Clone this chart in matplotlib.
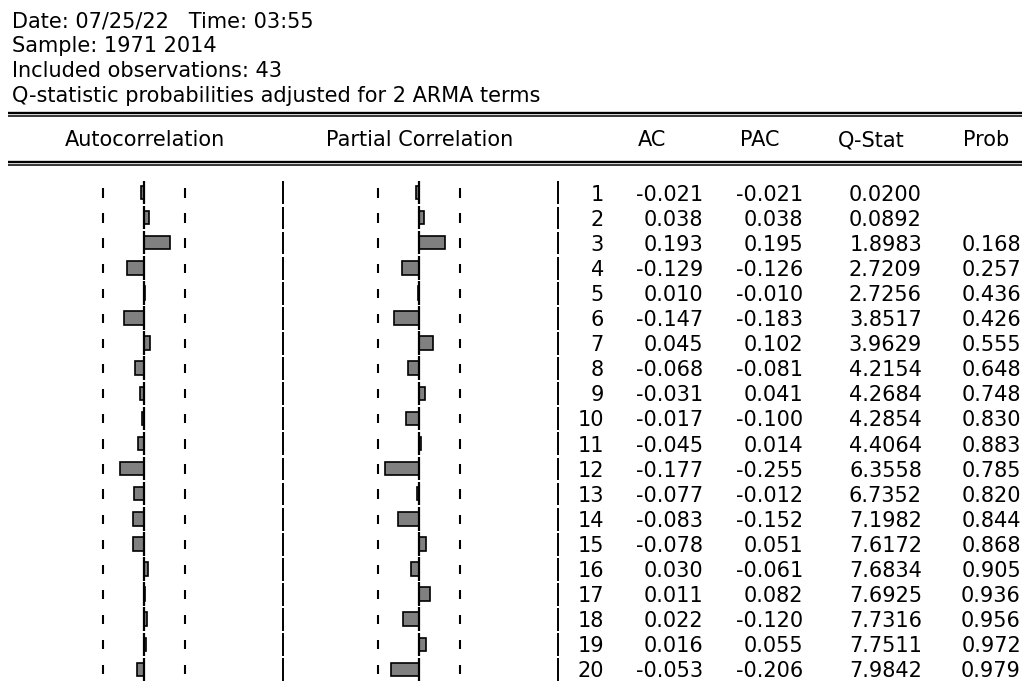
import matplotlib
matplotlib.use("Agg")
import matplotlib.pyplot as plt
import numpy as np

# ── Correlogram values (EViews output) ──────────────────────────────────────
header_lines = [
    "Date: 07/25/22   Time: 03:55",
    "Sample: 1971 2014",
    "Included observations: 43",
    "Q-statistic probabilities adjusted for 2 ARMA terms",
]
lags = [1, 2, 3, 4, 5, 6, 7, 8, 9, 10, 11, 12, 13, 14, 15, 16, 17, 18, 19, 20]
ac = [-0.021, 0.038, 0.193, -0.129, 0.010, -0.147, 0.045, -0.068, -0.031, -0.017,
      -0.045, -0.177, -0.077, -0.083, -0.078, 0.030, 0.011, 0.022, 0.016, -0.053]
pac = [-0.021, 0.038, 0.195, -0.126, -0.010, -0.183, 0.102, -0.081, 0.041, -0.100,
       0.014, -0.255, -0.012, -0.152, 0.051, -0.061, 0.082, -0.120, 0.055, -0.206]
qstat = [0.0200, 0.0892, 1.8983, 2.7209, 2.7256, 3.8517, 3.9629, 4.2154, 4.2684, 4.2854,
         4.4064, 6.3558, 6.7352, 7.1982, 7.6172, 7.6834, 7.6925, 7.7316, 7.7511, 7.9842]
prob = [None, None, 0.168, 0.257, 0.436, 0.426, 0.555, 0.648, 0.748, 0.830,
        0.883, 0.785, 0.820, 0.844, 0.868, 0.905, 0.936, 0.956, 0.972, 0.979]
bound = 0.305  # approx. 2/sqrt(43)

# ── Layout (pixels) ─────────────────────────────────────────────────────────
W, H = 1025, 685
ROW0, ROW_H = 192.5, 25.1      # centre of lag 1, row pitch
BODY_TOP = 180
SCALE = 135.0                  # pixels per unit correlation
ylim = (1 + (H - ROW0) / ROW_H, 1 + (BODY_TOP - ROW0) / ROW_H)

plt.rcParams["font.family"] = ["DejaVu Sans"]
plt.rcParams["font.size"] = 15

fig = plt.figure(figsize=(W / 100, H / 100), dpi=100)


def px_axes(x0, y0, x1, y1):
    a = fig.add_axes([x0 / W, 1 - y1 / H, (x1 - x0) / W, (y1 - y0) / H])
    a.set_axis_off()
    return a


# header area
hdr = px_axes(0, 0, W, H)
hdr.set_xlim(0, W)
hdr.set_ylim(H, 0)
for i, line in enumerate(header_lines):
    hdr.text(12, 27 + 25 * i, line, va="baseline", ha="left")
for y_thick, y_thin in [(112.8, 116.0), (161.7, 165.2)]:
    hdr.hlines(y_thick, 8, 1022, color="black", lw=1.7)
    hdr.hlines(y_thin, 8, 1022, color="black", lw=1.1)
hdr.text(145, 140, "Autocorrelation", ha="center", va="center")
hdr.text(420, 140, "Partial Correlation", ha="center", va="center")
for cx, name in [(652, "AC"), (760, "PAC"), (871, "Q-Stat"), (986, "Prob")]:
    hdr.text(cx, 140, name, ha="center", va="center")

lag_arr = np.array(lags, dtype=float)


def vsegs(a, x, lo, hi, **kw):
    a.vlines(np.full(len(lag_arr), x), lag_arr + lo, lag_arr + hi, color="black", **kw)


def panel(zero_px, values):
    a = px_axes(zero_px - SCALE, BODY_TOP, zero_px + 146, H)
    a.set_xlim(-1.0, 146 / SCALE)
    a.set_ylim(*ylim)
    a.barh(lag_arr, values, height=0.54, color="#808080", edgecolor="black",
           linewidth=1.2, zorder=2)
    vsegs(a, 0, -0.47, 0.47, lw=1.6, zorder=3)
    for b in (-bound, bound):
        vsegs(a, b, -0.17, 0.2, lw=1.5)
    vsegs(a, 1.03, -0.44, 0.47, lw=1.4, clip_on=False)
    return a


panel(144, ac)
panel(419, pac)

# numeric table
tab = px_axes(0, BODY_TOP, W, H)
tab.set_xlim(0, W)
tab.set_ylim(*ylim)
for i, lag in enumerate(lags):
    y = lag + 0.08
    tab.text(604, y, f"{lag}", ha="right", va="center")
    tab.text(703, y, f"{ac[i]:.3f}", ha="right", va="center")
    tab.text(803, y, f"{pac[i]:.3f}", ha="right", va="center")
    tab.text(922, y, f"{qstat[i]:.4f}", ha="right", va="center")
    if prob[i] is not None:
        tab.text(1021, y, f"{prob[i]:.3f}", ha="right", va="center")

fig.savefig("out.png", dpi=100, facecolor="white")
